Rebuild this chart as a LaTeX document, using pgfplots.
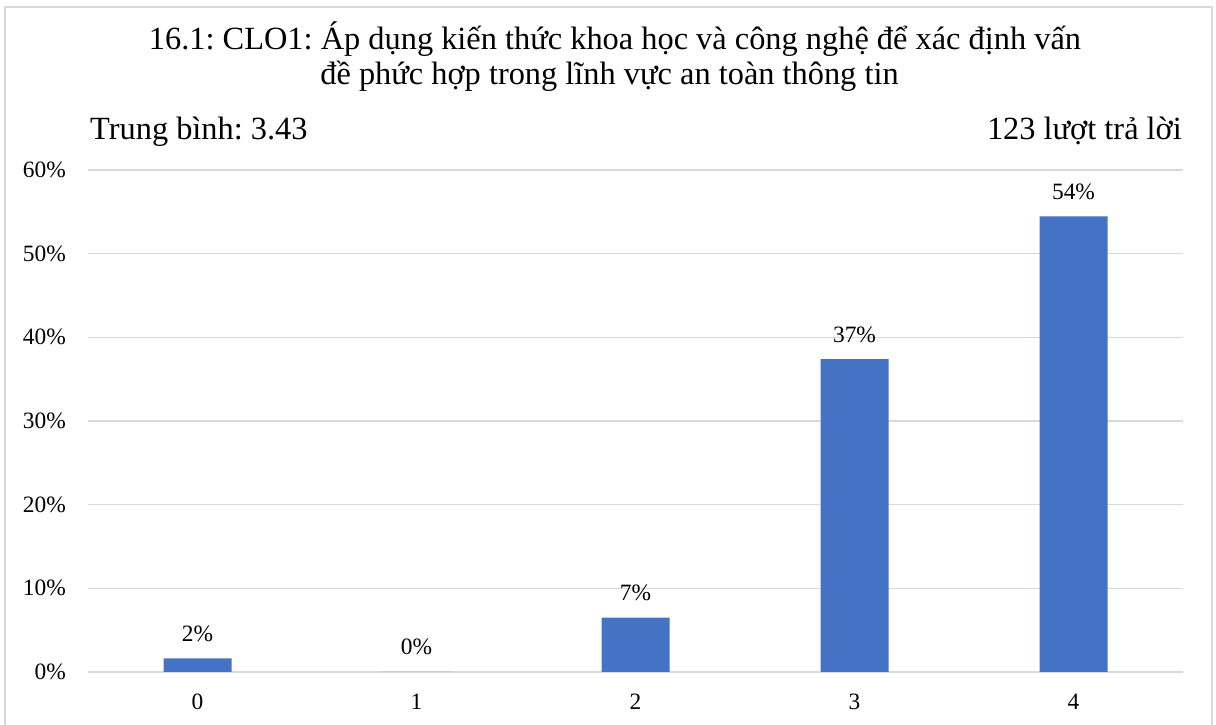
\documentclass[border=0pt]{standalone}
\usepackage{fontspec}
\setmainfont{Liberation Serif}
\usepackage{pgfplots}
\pgfplotsset{compat=1.18}
\definecolor{barblue}{HTML}{4472C4}
\definecolor{gridgray}{HTML}{D9D9D9}
\definecolor{framegray}{HTML}{D9D9D9}
\newcommand{\bigfont}{\fontsize{32.5}{36}\selectfont}
\newcommand{\smallfont}{\fontsize{23.5}{28}\selectfont}
\frenchspacing
\begin{document}
\begin{tikzpicture}[x=1bp,y=1bp]
\useasboundingbox (0,0) rectangle (1216,725);
\fill[white] (0,0) rectangle (1216,725);
\draw[framegray, line width=1.5bp] (5,-10) -- (5,718) -- (1212,718) -- (1212,-10);
% title and header lines
\node[anchor=base, inner sep=0pt, font=\bigfont] at (615,675) {16.1: CLO1: Áp dụng kiến thức khoa học và công nghệ để xác định vấn};
\node[anchor=base, inner sep=0pt, font=\bigfont] at (609.5,640) {đề phức hợp trong lĩnh vực an toàn thông tin};
\node[anchor=base west, inner sep=0pt, font=\bigfont] at (90,585) {Trung bình: 3.43};
\node[anchor=base east, inner sep=0pt, font=\bigfont] at (1182,585) {123 lượt trả lời};
\begin{axis}[
  at={(88bp,53bp)}, anchor=south west,
  scale only axis, width=1095bp, height=502bp,
  xmin=-0.5, xmax=4.5, ymin=0, ymax=60,
  xtick={0,1,2,3,4}, xticklabels={0,1,2,3,4},
  ytick={0,10,20,30,40,50,60},
  yticklabel={\pgfmathprintnumber[assume math mode=true]{\tick}\%},
  axis line style={draw=none},
  major tick length=0pt,
  ymajorgrids, grid style={gridgray, line width=1.5bp},
  tick label style={font=\smallfont},
  yticklabel style={inner sep=0pt, anchor=east, xshift=-22bp},
  xticklabel style={inner sep=0pt, anchor=north, yshift=-22bp},
  ybar, bar width=68bp,
  nodes near coords={\pgfmathprintnumber[fixed,precision=0,assume math mode=true]{\pgfplotspointmeta}\%},
  nodes near coords style={font=\smallfont, inner sep=0pt, anchor=base, yshift=17bp},
  point meta=y,
  clip=false,
]
\addplot[fill=barblue, draw=none] coordinates {(0,1.63) (1,0) (2,6.50) (3,37.40) (4,54.47)};
\end{axis}
\end{tikzpicture}
\end{document}
